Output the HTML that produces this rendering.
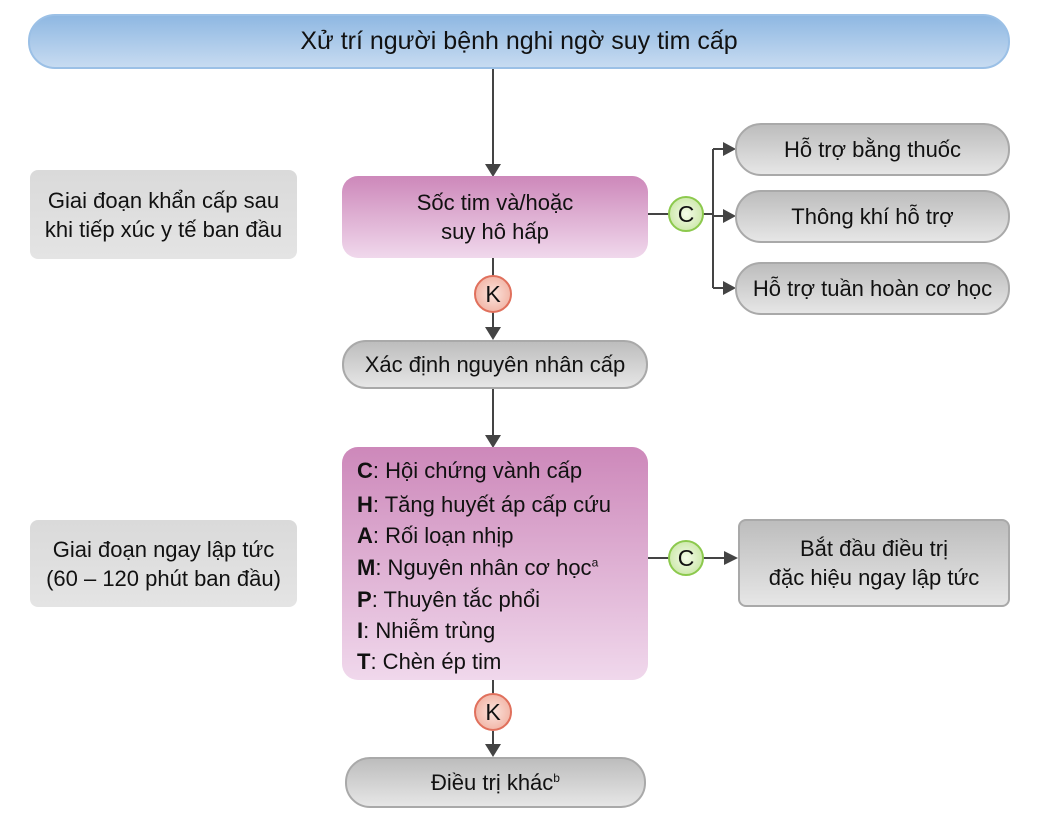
<!DOCTYPE html>
<html><head><meta charset="utf-8"><style>
body{margin:0;width:1037px;height:820px;background:#fff;position:relative;overflow:hidden;font-family:"Liberation Sans","DejaVu Sans",sans-serif;color:#111}
.b{position:absolute;box-sizing:border-box;display:flex;align-items:center;justify-content:center;text-align:center;font-size:22px;line-height:29px}
.g{background:linear-gradient(#bdbdbd,#e6e6e6);border:2px solid #a9a9a9}
.gl{background:linear-gradient(#dadada,#e4e4e4);border-radius:8px}
.p{background:linear-gradient(#cd88ba,#f0d8ec);border-radius:16px}
.c{position:absolute;width:36px;height:36px;border-radius:50%;box-sizing:border-box;display:flex;align-items:center;justify-content:center;font-size:23px}
.cg{background:radial-gradient(#f4fbe8,#c2e39a);border:2px solid #8cc94d}
.ck{background:radial-gradient(#fbe3dc,#efa897);border:2px solid #e0705c}
.l{position:absolute;left:357px;font-size:22px;white-space:nowrap}
</style></head><body>
<svg width="1037" height="820" style="position:absolute;left:0;top:0">
<g stroke="#444" stroke-width="2" fill="none">
<line x1="493" y1="69" x2="493" y2="165"/>
<line x1="648" y1="214" x2="669" y2="214"/>
<line x1="713" y1="149" x2="713" y2="288"/>
<line x1="703" y1="214" x2="713" y2="214"/>
<line x1="713" y1="149" x2="724" y2="149"/>
<line x1="713" y1="216" x2="724" y2="216"/>
<line x1="713" y1="288" x2="724" y2="288"/>
<line x1="493" y1="258" x2="493" y2="276"/>
<line x1="493" y1="312" x2="493" y2="328"/>
<line x1="493" y1="389" x2="493" y2="436"/>
<line x1="648" y1="558" x2="669" y2="558"/>
<line x1="703" y1="558" x2="725" y2="558"/>
<line x1="493" y1="680" x2="493" y2="695"/>
<line x1="493" y1="731" x2="493" y2="745"/>
</g>
<g fill="#444">
<polygon points="485,164 501,164 493,177"/>
<polygon points="723,142 723,156 736,149"/>
<polygon points="723,209 723,223 736,216"/>
<polygon points="723,281 723,295 736,288"/>
<polygon points="485,327 501,327 493,340"/>
<polygon points="485,435 501,435 493,448"/>
<polygon points="724,551 724,565 738,558"/>
<polygon points="485,744 501,744 493,757"/>
</g>
</svg>
<div class="b" style="left:28px;top:14px;width:982px;height:55px;border-radius:27px;background:linear-gradient(#8fb8e2,#c7dbf1);border:2px solid #9bc0e6;font-size:25px">Xử trí người bệnh nghi ngờ suy tim cấp</div>
<div class="b gl" style="left:30px;top:170px;width:267px;height:89px">Giai đoạn khẩn cấp sau<br>khi tiếp xúc y tế ban đầu</div>
<div class="b p" style="left:342px;top:176px;width:306px;height:82px">Sốc tim và/hoặc<br>suy hô hấp</div>
<div class="c cg" style="left:668px;top:196px">C</div>
<div class="b g" style="left:735px;top:123px;width:275px;height:53px;border-radius:26px">Hỗ trợ bằng thuốc</div>
<div class="b g" style="left:735px;top:190px;width:275px;height:53px;border-radius:26px">Thông khí hỗ trợ</div>
<div class="b g" style="left:735px;top:262px;width:275px;height:53px;border-radius:26px">Hỗ trợ tuần hoàn cơ học</div>
<div class="c ck" style="left:474px;top:275px;width:38px;height:38px">K</div>
<div class="b g" style="left:342px;top:340px;width:306px;height:49px;border-radius:24px">Xác định nguyên nhân cấp</div>
<div class="b p" style="left:342px;top:447px;width:306px;height:233px"></div>
<div class="l" style="top:458px"><b>C</b>: Hội chứng vành cấp</div>
<div class="l" style="top:492px"><b>H</b>: Tăng huyết áp cấp cứu</div>
<div class="l" style="top:523px"><b>A</b>: Rối loạn nhịp</div>
<div class="l" style="top:555px"><b>M</b>: Nguyên nhân cơ học<sup style="font-size:12px">a</sup></div>
<div class="l" style="top:587px"><b>P</b>: Thuyên tắc phổi</div>
<div class="l" style="top:618px"><b>I</b>: Nhiễm trùng</div>
<div class="l" style="top:649px"><b>T</b>: Chèn ép tim</div>
<div class="b gl" style="left:30px;top:520px;width:267px;height:87px">Giai đoạn ngay lập tức<br>(60 – 120 phút ban đầu)</div>
<div class="c cg" style="left:668px;top:540px">C</div>
<div class="b g" style="left:738px;top:519px;width:272px;height:88px;border-radius:8px">Bắt đầu điều trị<br>đặc hiệu ngay lập tức</div>
<div class="c ck" style="left:474px;top:693px;width:38px;height:38px">K</div>
<div class="b g" style="left:345px;top:757px;width:301px;height:51px;border-radius:25px">Điều trị khác<sup style="font-size:12px;position:relative;top:-4px">b</sup></div>
</body></html>
